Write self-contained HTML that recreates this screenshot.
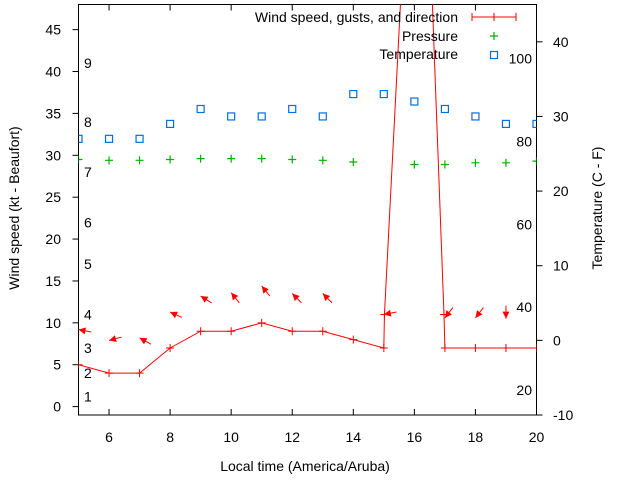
<!DOCTYPE html>
<html><head><meta charset="utf-8"><style>
body{margin:0;background:#fff;}
svg{display:block;font-family:"Liberation Sans",sans-serif;}
</style></head><body>
<svg id="chart" width="640" height="480" xmlns="http://www.w3.org/2000/svg"></svg>
<script>
const hours=[5,6,7,8,9,10,11,12,13,14,15,16,17,18,19,20];
const windX=[5,6,7,8,9,10,11,12,13,14,15,15.02,15.6,16.55,16.97,17,18,19,20];
const windV=[5,4,4,7,9,9,10,9,9,8,7,11,52,52,11,7,7,7,7];
const pressX=[5,6,7,8,9,10,11,12,13,14,16,17,18,19,20];
const pressV=[29.5,29.4,29.4,29.5,29.6,29.6,29.6,29.5,29.4,29.2,28.9,28.9,29.1,29.1,29.3];
const tempV=[27,27,27,29,31,30,30,31,30,33,33,32,31,30,29,29];
const arrowX=[5,6,7,8,9,10,11,12,13,15,17,18,19,20];
const arrowV=[9.2,7.9,8.2,11.3,13.2,13.6,14.4,13.5,13.5,11.0,10.6,10.6,10.5,10.6];
const arrowDir=[169,195,151,155,148,129,129,135,135,191,232,232,270,225];
const leftTicks=[0,5,10,15,20,25,30,35,40,45];
const rightTicks=[-10,0,10,20,30,40];
const xTicks=[6,8,10,12,14,16,18,20];
const beaufortLabels=["1","2","3","4","5","6","7","8","9"];
const beaufortV=[1.2,4,7,11,17,22,28,34,41];
const fLabels=["20","40","60","80","100"];
const fV=[20,40,60,80,100];

const L=78.5,R=536.5,T=4.5,B=415;
const sx=v=>L+(v-5)/15*(R-L);
const sy=v=>B-(v+1)/49*(B-T);
const sy2=v=>B-(v+10)/55*(B-T);
const svg=document.getElementById('chart');
const NS='http://www.w3.org/2000/svg';
function mk(tag,attrs,parent){const e=document.createElementNS(NS,tag);for(const k in attrs)e.setAttribute(k,attrs[k]);(parent||svg).appendChild(e);return e;}
function txt(s,x,y,anchor,size){const t=mk('text',{x:x,y:y,'text-anchor':anchor,'font-size':size||14,fill:'#000'});t.textContent=s;return t;}

const defs=mk('defs',{});
const cp=mk('clipPath',{id:'clip'},defs);
mk('rect',{x:L,y:T,width:R-L,height:B-T},cp);

const frame=mk('rect',{x:L,y:T,width:R-L,height:B-T,fill:'none',stroke:'#000','stroke-width':1});



leftTicks.forEach(v=>{
  const l=mk('line',{x1:L-6,x2:L,y1:sy(v),y2:sy(v),stroke:'#000'});
  
  
  const t=txt(String(v),61,sy(v)+5,'end');
  
  
});
rightTicks.forEach(v=>{
  const l=mk('line',{x1:R,x2:R+6,y1:sy2(v),y2:sy2(v),stroke:'#000'});
  
  
  const t=txt(String(v),553,sy2(v)+5,'start');
  
  
});
xTicks.forEach(v=>{
  const l=mk('line',{x1:sx(v),x2:sx(v),y1:B,y2:B-6,stroke:'#000'});
  
  
  const l2=mk('line',{x1:sx(v),x2:sx(v),y1:T,y2:T+6,stroke:'#000'});
  
  
  const t=txt(String(v),sx(v),442,'middle');
  
  
});
beaufortLabels.forEach((s,i)=>{
  const t=txt(s,84,sy(beaufortV[i])+5,'start');
  
  
});
fLabels.forEach((s,i)=>{
  const c=(fV[i]-32)*5/9;
  const t=txt(s,532,sy2(c)+5,'end');
  
  
});

const g=mk('g',{'clip-path':'url(#clip)'});



const wl=mk('polyline',{points:windX.map((x,i)=>sx(x)+','+sy(windV[i])).join(' '),fill:'none',stroke:'#f00','stroke-width':1},g);


windX.forEach((x,i)=>{
  if(windV[i]>48)return;
  const p=mk('path',{d:`M${sx(x)-4},${sy(windV[i])}h8M${sx(x)},${sy(windV[i])-4}v8`,stroke:'#f00','stroke-width':1},g);
  
  
});
arrowX.forEach((x,i)=>{
  const hx=sx(x),hy=sy(arrowV[i]);
  const a=arrowDir[i]*Math.PI/180;
  const ux=Math.cos(a),uy=-Math.sin(a);
  const len=13;
  const tx=hx-ux*len,ty=hy-uy*len;
  const px=-uy,py=ux;
  const bx=hx-ux*7,by=hy-uy*7;
  const grp=mk('g',{},g);
  
  
  mk('line',{x1:tx,y1:ty,x2:hx,y2:hy,stroke:'#f00','stroke-width':1},grp);
  mk('polygon',{points:`${hx},${hy} ${bx+px*3.5},${by+py*3.5} ${bx-px*3.5},${by-py*3.5}`,fill:'#f00'},grp);
});
pressX.forEach((x,i)=>{
  const p=mk('path',{d:`M${sx(x)-4},${sy(pressV[i])}h8M${sx(x)},${sy(pressV[i])-4}v8`,stroke:'#00b000','stroke-width':1.2},g);
  
  
});
hours.forEach((x,i)=>{
  const r=mk('rect',{x:sx(x)-3.5,y:sy2(tempV[i])-3.5,width:7,height:7,fill:'none',stroke:'#0070e0','stroke-width':1.2},g);
  
  
});

const e1=txt('Wind speed, gusts, and direction',458,22,'end');
mk('path',{d:'M472,17H516M472,13v8M494,13v8M516,13v8',stroke:'#f00','stroke-width':1});
const e2=txt('Pressure',458,41,'end');
mk('path',{d:'M490,36h8M494,32v8',stroke:'#00b000','stroke-width':1.2});
const e3=txt('Temperature',458,59,'end');
mk('rect',{x:490.5,y:51.5,width:7,height:7,fill:'none',stroke:'#0070e0','stroke-width':1.2});

const xt=txt('Local time (America/Aruba)',305,471,'middle');

const yt=txt('Wind speed (kt - Beaufort)',0,0,'middle');
yt.setAttribute('transform','translate(19,208) rotate(-90)');

const y2=txt('Temperature (C - F)',0,0,'middle');
y2.setAttribute('transform','translate(602,208) rotate(-90)');

</script>
</body></html>
